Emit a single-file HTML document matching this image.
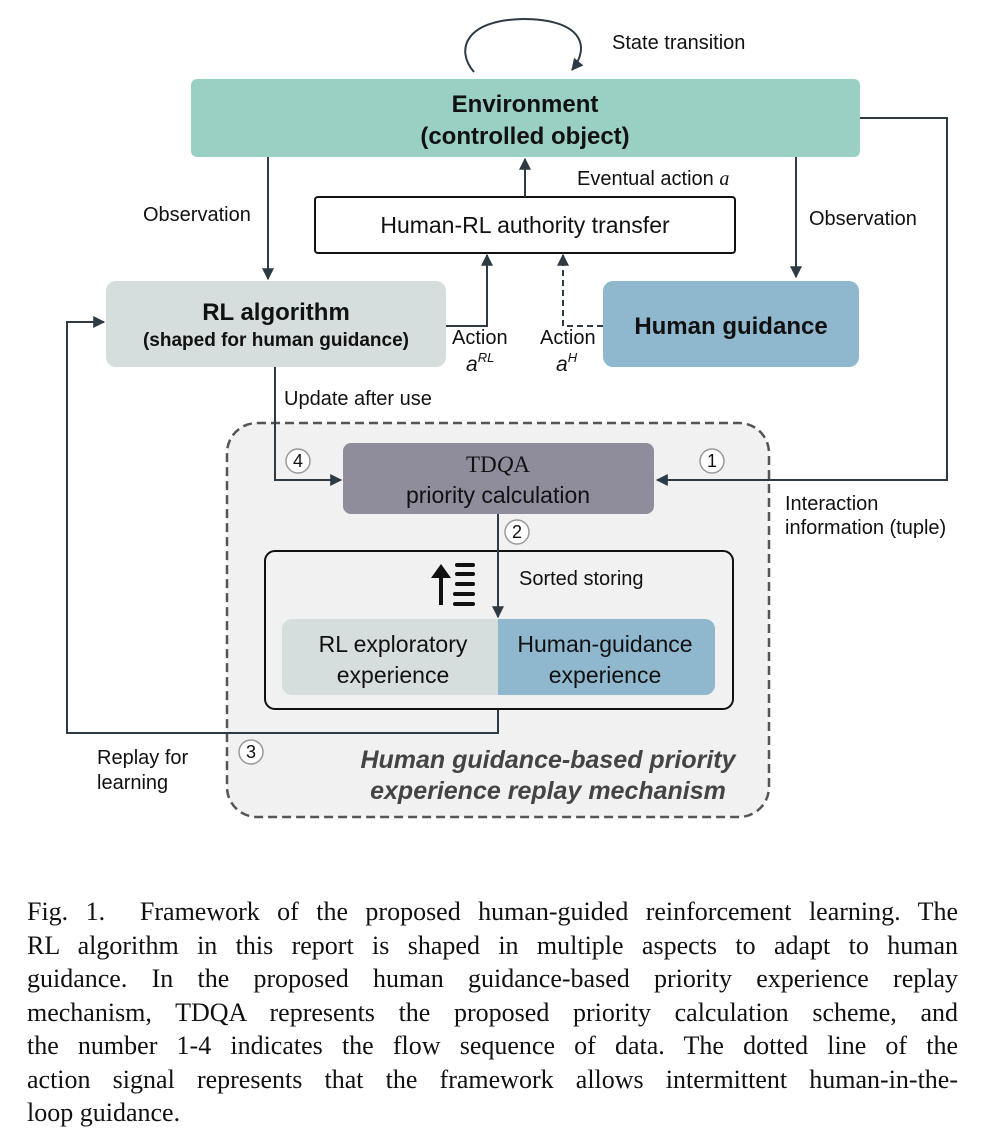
<!DOCTYPE html>
<html><head><meta charset="utf-8"><style>
body{margin:0;background:#fff;width:981px;height:1138px;position:relative;overflow:hidden}
svg{position:absolute;left:0;top:0}
svg text{font-family:"Liberation Sans",sans-serif;fill:#111}
.cap{position:absolute;left:27px;width:931px;font-family:"Liberation Serif",serif;font-size:26px;color:#111;text-align:justify;text-align-last:justify;white-space:nowrap;line-height:33px}
</style></head><body>
<svg width="981" height="1138" viewBox="0 0 981 1138">
<defs>
<marker id="ar2" viewBox="0 0 10 10" markerWidth="16" markerHeight="12" refX="9" refY="5" orient="auto" markerUnits="userSpaceOnUse"><path d="M0,0 L10,5 L0,10 z" fill="#2e3a44"/></marker>
</defs>
<g stroke="#2e3a44" stroke-width="2" fill="none">
<path d="M474,72 C455,50 465,20 523,19 C580,19 592,45 572,70" marker-end="url(#ar2)"/>
</g>
<text x="612" y="49" font-size="20">State transition</text>
<rect x="191" y="79" width="669" height="78" rx="6" fill="#99d0c3"/>
<text x="525" y="112" font-size="24" font-weight="bold" text-anchor="middle">Environment</text>
<text x="525" y="144" font-size="24" font-weight="bold" text-anchor="middle">(controlled object)</text>
<rect x="315" y="197" width="420" height="56" rx="3" fill="#fff" stroke="#111" stroke-width="2"/>
<text x="525" y="233" font-size="23" text-anchor="middle">Human-RL authority transfer</text>
<text x="577" y="185" font-size="20">Eventual action <tspan font-family="Liberation Serif" font-style="italic">a</tspan></text>
<rect x="227" y="423" width="542" height="394" rx="30" fill="#f1f1f1" stroke="#555" stroke-width="2.5" stroke-dasharray="9,5"/>
<g stroke="#2e3a44" stroke-width="2" fill="none">
<line x1="525" y1="197" x2="525" y2="159" marker-end="url(#ar2)"/>
<line x1="268" y1="157" x2="268" y2="279" marker-end="url(#ar2)"/>
<line x1="796" y1="157" x2="796" y2="277" marker-end="url(#ar2)"/>
<polyline points="446,326 487,326 487,255" marker-end="url(#ar2)"/>
<polyline points="603,326 563,326 563,255" stroke-dasharray="6,4" marker-end="url(#ar2)"/>
<polyline points="860,118 947,118 947,480 657,480" marker-end="url(#ar2)"/>
<polyline points="275,367 275,480 341,480" marker-end="url(#ar2)"/>
<polyline points="498,709 498,733 67,733 67,322 104,322" marker-end="url(#ar2)"/>
</g>
<text x="143" y="221" font-size="20">Observation</text>
<text x="809" y="225" font-size="20">Observation</text>
<rect x="106" y="281" width="340" height="86" rx="10" fill="#d5dedd"/>
<text x="276" y="320" font-size="24" font-weight="bold" text-anchor="middle">RL algorithm</text>
<text x="276" y="346" font-size="19" font-weight="bold" text-anchor="middle">(shaped for human guidance)</text>
<rect x="603" y="281" width="256" height="86" rx="10" fill="#8fb8cf"/>
<text x="731" y="334" font-size="24" font-weight="bold" text-anchor="middle">Human guidance</text>
<text x="452" y="344" font-size="20">Action</text>
<text x="466" y="371" font-size="21" font-family="Liberation Serif" font-style="italic">a<tspan font-size="13" dy="-9">RL</tspan></text>
<text x="540" y="344" font-size="20">Action</text>
<text x="556" y="371" font-size="21" font-family="Liberation Serif" font-style="italic">a<tspan font-size="13" dy="-9">H</tspan></text>
<text x="284" y="405" font-size="20">Update after use</text>
<rect x="343" y="443" width="311" height="71" rx="8" fill="#8f8c9c"/>
<text x="498" y="472" font-size="23" text-anchor="middle" style="font-family:'Liberation Serif',serif">TD<tspan font-style="italic">Q</tspan>A</text>
<text x="498" y="503" font-size="23" text-anchor="middle">priority calculation</text>
<g stroke="#999" stroke-width="1.5" fill="#fff">
<circle cx="298" cy="461" r="12"/><circle cx="712" cy="461" r="12"/><circle cx="517" cy="532" r="12"/><circle cx="251" cy="752" r="12"/>
</g>
<g font-size="18" text-anchor="middle">
<text x="298" y="467">4</text><text x="712" y="467">1</text><text x="517" y="538">2</text><text x="251" y="758">3</text>
</g>
<text x="785" y="510" font-size="20">Interaction</text>
<text x="785" y="534" font-size="20">information (tuple)</text>
<rect x="265" y="551" width="468" height="158" rx="10" fill="none" stroke="#111" stroke-width="2"/>
<path d="M292,619 H498 V695 H292 a10,10 0 0 1 -10,-10 V629 a10,10 0 0 1 10,-10 z" fill="#d5dedd"/>
<path d="M498,619 H705 a10,10 0 0 1 10,10 V685 a10,10 0 0 1 -10,10 H498 z" fill="#8fb8cf"/>
<line x1="498" y1="514" x2="498" y2="617" stroke="#2e3a44" stroke-width="2" marker-end="url(#ar2)"/>
<text x="393" y="652" font-size="23" text-anchor="middle">RL exploratory</text>
<text x="393" y="683" font-size="23" text-anchor="middle">experience</text>
<text x="605" y="652" font-size="23" text-anchor="middle">Human-guidance</text>
<text x="605" y="683" font-size="23" text-anchor="middle">experience</text>
<text x="519" y="585" font-size="20">Sorted storing</text>
<g fill="#111">
<rect x="439" y="570" width="4" height="35"/>
<path d="M431,578 L441,564 L451,578 z"/>
<rect x="455" y="563" width="20" height="4" rx="2"/>
<rect x="455" y="572" width="20" height="4" rx="2"/>
<rect x="455" y="582" width="20" height="4" rx="2"/>
<rect x="453" y="592" width="22" height="4" rx="2"/>
<rect x="453" y="602" width="22" height="4" rx="2"/>
</g>
<text x="97" y="764" font-size="20">Replay for</text>
<text x="97" y="789" font-size="20">learning</text>
<text x="548" y="768" font-size="25" font-weight="bold" font-style="italic" text-anchor="middle" style="fill:#444">Human guidance-based priority</text>
<text x="548" y="799" font-size="25" font-weight="bold" font-style="italic" text-anchor="middle" style="fill:#444">experience replay mechanism</text>
</svg>
<div class="cap" style="top:895px">Fig. 1.&nbsp; Framework of the proposed human-guided reinforcement learning. The</div>
<div class="cap" style="top:929px">RL algorithm in this report is shaped in multiple aspects to adapt to human</div>
<div class="cap" style="top:962px">guidance. In the proposed human guidance-based priority experience replay</div>
<div class="cap" style="top:996px">mechanism, TDQA represents the proposed priority calculation scheme, and</div>
<div class="cap" style="top:1029px">the number 1-4 indicates the flow sequence of data. The dotted line of the</div>
<div class="cap" style="top:1063px">action signal represents that the framework allows intermittent human-in-the-</div>
<div class="cap" style="top:1096px;text-align-last:left">loop guidance.</div>
</body></html>
